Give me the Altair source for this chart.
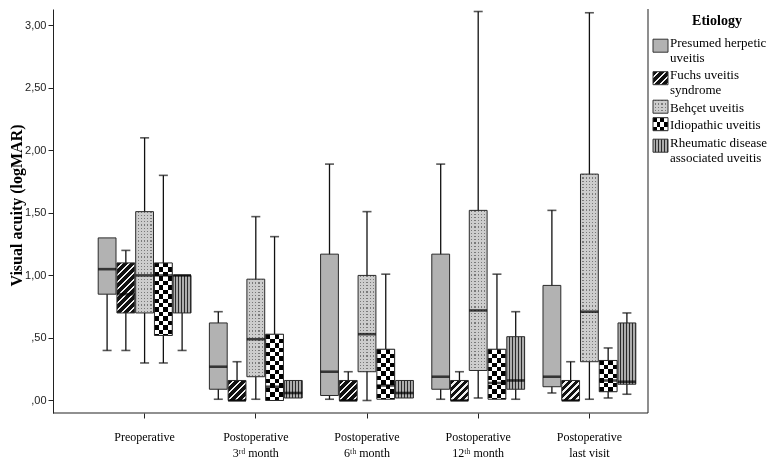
import altair as alt
import pandas as pd

times = ["Preoperative", "Postoperative\n3ʳᵈ month", "Postoperative\n6ᵗʰ month",
         "Postoperative\n12ᵗʰ month", "Postoperative\nlast visit"]
etiologies = ["Presumed herpetic uveitis", "Fuchs uveitis syndrome", "Behçet uveitis",
              "Idiopathic uveitis", "Rheumatic disease associated uveitis"]
legend_lines = [["Presumed herpetic", "uveitis"], ["Fuchs uveitis", "syndrome"],
                ["Behçet uveitis"], ["Idiopathic uveitis"],
                ["Rheumatic disease", "associated uveitis"]]

# rows: time points, columns: etiologies
whisker_low = [
    [0.40, 0.40, 0.30, 0.30, 0.40],
    [0.01, 0.00, 0.01, 0.00, 0.02],
    [0.01, 0.00, 0.00, 0.01, 0.02],
    [0.01, 0.00, 0.02, 0.01, 0.01],
    [0.06, 0.00, 0.01, 0.02, 0.05],
]
quart1 = [
    [0.85, 0.70, 0.70, 0.52, 0.70],
    [0.09, 0.00, 0.19, 0.00, 0.02],
    [0.04, 0.00, 0.23, 0.01, 0.02],
    [0.09, 0.00, 0.24, 0.01, 0.09],
    [0.11, 0.00, 0.31, 0.07, 0.13],
]
median = [
    [1.05, 0.85, 1.00, 1.00, 1.00],
    [0.27, 0.00, 0.49, 0.11, 0.06],
    [0.23, 0.00, 0.53, 0.12, 0.06],
    [0.19, 0.00, 0.72, 0.14, 0.16],
    [0.19, 0.00, 0.71, 0.16, 0.15],
]
quart3 = [
    [1.30, 1.10, 1.51, 1.10, 1.00],
    [0.62, 0.16, 0.97, 0.53, 0.16],
    [1.17, 0.16, 1.00, 0.41, 0.16],
    [1.17, 0.16, 1.52, 0.41, 0.51],
    [0.92, 0.16, 1.81, 0.32, 0.62],
]
whisker_high = [
    [1.30, 1.20, 2.10, 1.80, 1.00],
    [0.71, 0.31, 1.47, 1.31, 0.16],
    [1.89, 0.23, 1.51, 1.01, 0.16],
    [1.89, 0.23, 3.11, 1.01, 0.71],
    [1.52, 0.31, 3.10, 0.42, 0.70],
]
y_ticks = [0, 0.5, 1.0, 1.5, 2.0, 2.5, 3.0]

# ---------------- layout constants ----------------
W, H = 595, 404
LW = 118
Y_DOM = [-0.1, 3.13]
PX = H / (Y_DOM[1] - Y_DOM[0])
X_RANGE = [36, 592]
STEP = (X_RANGE[1] - X_RANGE[0]) / len(times)
OFF_PI, OFF_PO = 0.05, 0.49
OFF_STEP = STEP / (len(etiologies) - OFF_PI + 2 * OFF_PO)
BOX_W = OFF_STEP * (1 - OFF_PI)
SERIF = "Liberation Serif"

rows = []
k = 0
for i, t in enumerate(times):
    for j, e in enumerate(etiologies):
        rows.append(dict(key=k, time=t, etiology=e, eidx=j,
                         vmin=whisker_low[i][j], q1=quart1[i][j], med=median[i][j],
                         q3=quart3[i][j], vmax=whisker_high[i][j]))
        k += 1
df = pd.DataFrame(rows)


def stops_from(segs, total):
    stops, pos, n = [], 0.0, 0
    while pos < total - 1e-9:
        color, length = segs[n % len(segs)]
        end = min(pos + length, total)
        stops.append({"offset": round(pos / total, 5), "color": color})
        stops.append({"offset": round(end / total, 5), "color": color})
        pos = end
        n += 1
    return stops


def grad(x2, y2, stops):
    return {"gradient": "linear", "x1": 0, "y1": 0, "x2": x2, "y2": y2, "stops": stops}


def pattern_layers(idx, w, h):
    """list of (fill, blend) for etiology idx in a w x h pixel box"""
    h = max(h, 1.0)
    if idx == 0:
        return [("#b2b2b2", None)]
    if idx == 1:
        kk = (w + h) / (w * w + h * h)
        return [(grad(kk * w, kk * h, stops_from([("#111111", 4.6), ("#f0f0f0", 2.4)], w + h)), None)]
    if idx == 2:
        return [(grad(1, 0, stops_from([("#cdcdcd", 2.0), ("#7a7a7a", 1.2)], w)), None),
                (grad(0, 1, stops_from([("#000000", 1.2), ("#cdcdcd", 2.0)], h)), "lighten")]
    if idx == 3:
        return [(grad(0, 1, stops_from([("#000000", 4.45), ("#ffffff", 4.45)], h)), None),
                (grad(1, 0, stops_from([("#000000", w / 4), ("#ffffff", w / 4)], w)), "difference")]
    return [(grad(1, 0, stops_from([("#adadad", 2.0), ("#2a2a2a", 1.0)], w)), None)]


x_scale = alt.Scale(domain=times, range=X_RANGE, paddingInner=0, paddingOuter=0)
xoff_scale = alt.Scale(domain=etiologies, paddingInner=OFF_PI, paddingOuter=OFF_PO)
y_scale = alt.Scale(domain=Y_DOM, nice=False, zero=False)

x_axis = alt.Axis(title=None, labelExpr="split(datum.label, '\\n')", labelAngle=0,
                  labelFont=SERIF, labelFontSize=12, labelColor="#000", labelLineHeight=16,
                  labelPadding=13, tickSize=5, tickColor="#222", domain=False,
                  labelBaseline="top")
y_axis = alt.Axis(title="Visual acuity (logMAR)", values=y_ticks, grid=False,
                  labelExpr="datum.value < 1 ? replace(format(datum.value, '.2f'), '0.', ',') : replace(format(datum.value, '.2f'), '.', ',')",
                  labelFont="Liberation Sans", labelFontSize=11, labelColor="#222",
                  tickSize=5, tickColor="#222", domainColor="#222",
                  titleFont=SERIF, titleFontSize=16, titleFontWeight="bold", titleColor="#000",
                  titlePadding=0, titleY=196)


def X():
    return alt.X("time:N", scale=x_scale, axis=x_axis, sort=times)


def XO():
    return alt.XOffset("etiology:N", scale=xoff_scale, sort=etiologies)


def Y(field):
    return alt.Y(f"{field}:Q", scale=y_scale, axis=y_axis)


base = alt.Chart(df)

layers = [base.mark_rule(color="#111", strokeWidth=1.3).encode(
    x=X(), xOffset=XO(), y=Y("vmin"), y2="vmax")]

for r in rows:
    h_px = (r["q3"] - r["q1"]) * PX
    for fill, blend in pattern_layers(r["eidx"], BOX_W, h_px):
        kw = dict(fill=fill, strokeWidth=0)
        if blend:
            kw["blend"] = blend
        layers.append(base.mark_bar(**kw).encode(
            x=X(), xOffset=XO(), y=Y("q1"), y2="q3"
        ).transform_filter(f"datum.key == {r['key']}"))

layers.append(base.mark_bar(fillOpacity=0, stroke="#2a2a2a", strokeWidth=1).encode(
    x=X(), xOffset=XO(), y=Y("q1"), y2="q3"))
layers.append(base.mark_tick(color="#000", thickness=2.6, size=BOX_W).encode(
    x=X(), xOffset=XO(), y=Y("med")))
layers.append(base.mark_tick(color="#111", thickness=1.6, size=9).encode(
    x=X(), xOffset=XO(), y=Y("vmax")).transform_filter("datum.vmax > datum.q3"))
layers.append(base.mark_tick(color="#111", thickness=1.6, size=9).encode(
    x=X(), xOffset=XO(), y=Y("vmin")).transform_filter("datum.vmin < datum.q1"))
frame = alt.Chart(pd.DataFrame({"a": [0]}))
layers.append(frame.mark_rule(color="#444", strokeWidth=1.2).encode(
    x=alt.value(W), y=alt.value(0), y2=alt.value(H)))
layers.append(frame.mark_rule(color="#222", strokeWidth=1.2).encode(
    x=alt.value(0), x2=alt.value(W), y=alt.value(H)))

main = alt.layer(*layers).properties(width=W, height=H)

# ---------------- legend panel ----------------
LINE_H, ROW_GAP, FIRST = 15.0, 2.5, 33.7
SW_W, SW_H = 15, 13
text_rows, sw_rows = [], []
cur = FIRST
for j, lines in enumerate(legend_lines):
    for n, ln in enumerate(lines):
        text_rows.append(dict(txt=ln, ty=cur + n * LINE_H))
    cy = cur + 3 if len(lines) > 1 else cur - 1
    sw_rows.append(dict(eidx=j, y0=cy - SW_H / 2, y1=cy + SW_H / 2))
    cur += len(lines) * LINE_H + ROW_GAP

lx = alt.Scale(domain=[0, LW], range=[0, LW])
ly = alt.Scale(domain=[0, H], range=[0, H])

leg_layers = [alt.Chart(pd.DataFrame({"t": ["Etiology"], "x": [68], "y": [12]})).mark_text(
    font=SERIF, fontSize=14, fontWeight="bold", color="#000").encode(
    x=alt.X("x:Q", scale=lx, axis=None), y=alt.Y("y:Q", scale=ly, axis=None), text="t:N")]
for s in sw_rows:
    for fill, blend in pattern_layers(s["eidx"], SW_W, SW_H):
        kw = dict(fill=fill)
        if blend:
            kw["blend"] = blend
        leg_layers.append(alt.Chart(pd.DataFrame([dict(x0=4, x1=4 + SW_W, **s)])).mark_rect(**kw).encode(
            x=alt.X("x0:Q", scale=lx, axis=None), x2="x1",
            y=alt.Y("y0:Q", scale=ly, axis=None), y2="y1"))
    leg_layers.append(alt.Chart(pd.DataFrame([dict(x0=4, x1=4 + SW_W, **s)])).mark_rect(
        fillOpacity=0, stroke="#333", strokeWidth=1).encode(
        x=alt.X("x0:Q", scale=lx, axis=None), x2="x1",
        y=alt.Y("y0:Q", scale=ly, axis=None), y2="y1"))
tdf = pd.DataFrame(text_rows)
tdf["tx"] = 21
leg_layers.append(alt.Chart(tdf).mark_text(font=SERIF, fontSize=13, color="#000", align="left",
                                           baseline="middle").encode(
    x=alt.X("tx:Q", scale=lx, axis=None), y=alt.Y("ty:Q", scale=ly, axis=None), text="txt:N"))

legend = alt.layer(*leg_layers).properties(width=LW, height=H)

chart = alt.hconcat(main, legend, spacing=0).properties(
    padding={"left": 0, "top": 0, "right": 0, "bottom": 0}
).configure(font=SERIF).configure_view(stroke="transparent", strokeWidth=0)

chart.save("out.html", embed_options={"renderer": "svg", "actions": False})
